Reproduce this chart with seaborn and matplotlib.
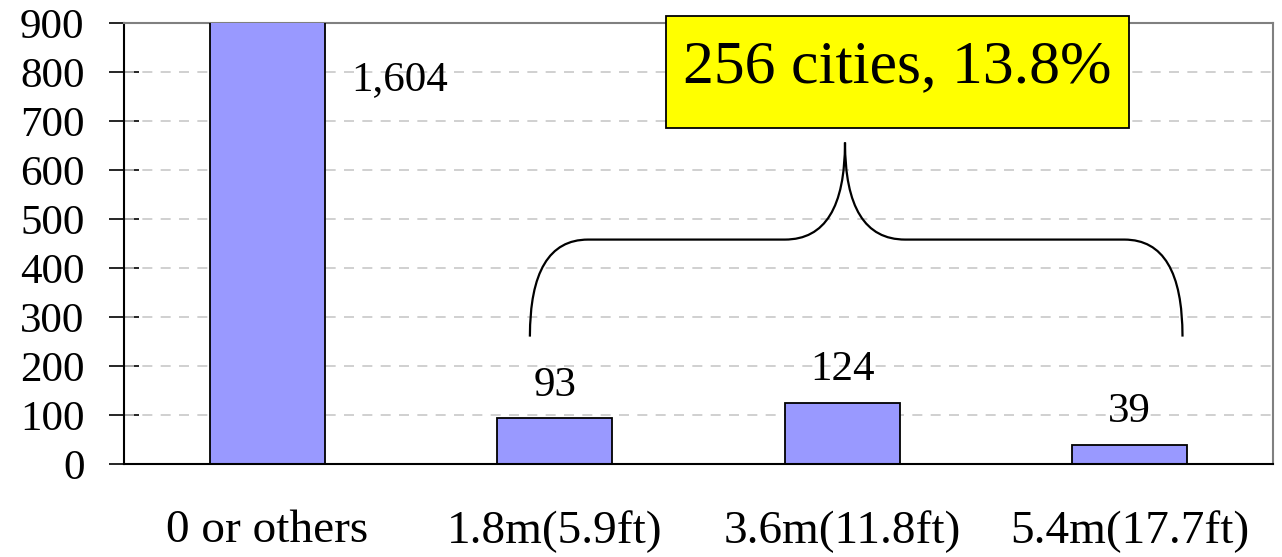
import matplotlib
matplotlib.use("Agg")
import matplotlib.pyplot as plt
from matplotlib.path import Path
from matplotlib.patches import PathPatch, Rectangle
import seaborn as sns
import pandas as pd

# Number of cities by inundation depth
categories = ["0 or others", "1.8m(5.9ft)", "3.6m(11.8ft)", "5.4m(17.7ft)"]
cities = [1604, 93, 124, 39]
value_labels = ["1,604", "93", "124", "39"]
y_ticks = [0, 100, 200, 300, 400, 500, 600, 700, 800, 900]
summary_text = "256 cities, 13.8%"

sns.set_theme(style="white")
plt.rcParams["font.family"] = ["Liberation Serif", "DejaVu Serif"]

df = pd.DataFrame({"depth": categories, "cities": cities})

fig = plt.figure(figsize=(12.82, 5.57), dpi=100)
ax = fig.add_axes([124 / 1282, 1 - 464 / 557, (1273 - 124) / 1282, (464 - 23) / 557])

sns.barplot(data=df, x="depth", y="cities", color="#9999FF", saturation=1,
            edgecolor="black", linewidth=1.3, width=0.4, ax=ax, zorder=3)

ax.set_ylim(0, 900)
ax.set_xlim(-0.5, len(categories) - 0.5)
ax.set_yticks(y_ticks)
ax.set_xlabel("")
ax.set_ylabel("")

# dashed horizontal gridlines
for v in y_ticks[1:-1]:
    ax.axhline(v, color="#c8c8c8", linestyle=(0, (6, 5)), linewidth=1.2, zorder=1)

# spines
for side in ["left", "bottom"]:
    ax.spines[side].set_color("black")
    ax.spines[side].set_linewidth(1.5)
for side in ["top", "right"]:
    ax.spines[side].set_color("#808080")
    ax.spines[side].set_linewidth(1.5)
ax.spines["bottom"].set_zorder(4)

# ticks: category labels centred, separators at category boundaries
ax.tick_params(axis="x", which="major", length=0, pad=33, labelsize=34, colors="black")
ax.set_xticks(range(len(categories)))
ax.set_xticklabels(categories)
ax.set_xticks([i - 0.5 for i in range(len(categories) + 1)], minor=True)
ax.tick_params(axis="x", which="minor", direction="inout", length=19, width=1.2, color="black")
ax.tick_params(axis="y", direction="inout", length=21, width=1.2, pad=18,
               labelsize=31, color="black", left=True)
ax.tick_params(axis="y", labelcolor="black")

# value labels
for i, (v, lab) in enumerate(zip(cities, value_labels)):
    if v > 900:
        ax.text(i + 0.29, 785, lab, ha="left", va="center", fontsize=31, color="black")
    else:
        ax.annotate(lab, xy=(i, v), xytext=(0, 10), textcoords="offset points",
                    ha="center", va="bottom", fontsize=31, color="black")

# summary box
bx0, bx1 = 1.387, 2.997
ax.add_patch(Rectangle((bx0, 685), bx1 - bx0, 914 - 685, facecolor="#FFFF00",
                       edgecolor="black", linewidth=1.3, clip_on=False, zorder=5))
ax.text((bx0 + bx1) / 2, 810, summary_text, ha="center", va="center",
        fontsize=44.5, color="black", zorder=6, clip_on=False)

# curly brace spanning the flooded depth categories
xl, xr, xm = 0.913, 3.185, 2.01
y_end, y_mid, y_top = 260, 458, 656
dx1 = 0.202
dx2 = 0.209
verts = [
    (xl, y_end), (xl, y_mid), (xl + dx1, y_mid),
    (xm - dx2, y_mid),
    (xm, y_mid), (xm, y_top),
    (xm, y_mid), (xm + dx2, y_mid),
    (xr - dx1, y_mid),
    (xr, y_mid), (xr, y_end),
]
codes = [Path.MOVETO, Path.CURVE3, Path.CURVE3, Path.LINETO,
         Path.CURVE3, Path.CURVE3, Path.CURVE3, Path.CURVE3,
         Path.LINETO, Path.CURVE3, Path.CURVE3]
ax.add_patch(PathPatch(Path(verts, codes), facecolor="none", edgecolor="black",
                       linewidth=1.6, zorder=5))

fig.savefig("out.png", dpi=100)
